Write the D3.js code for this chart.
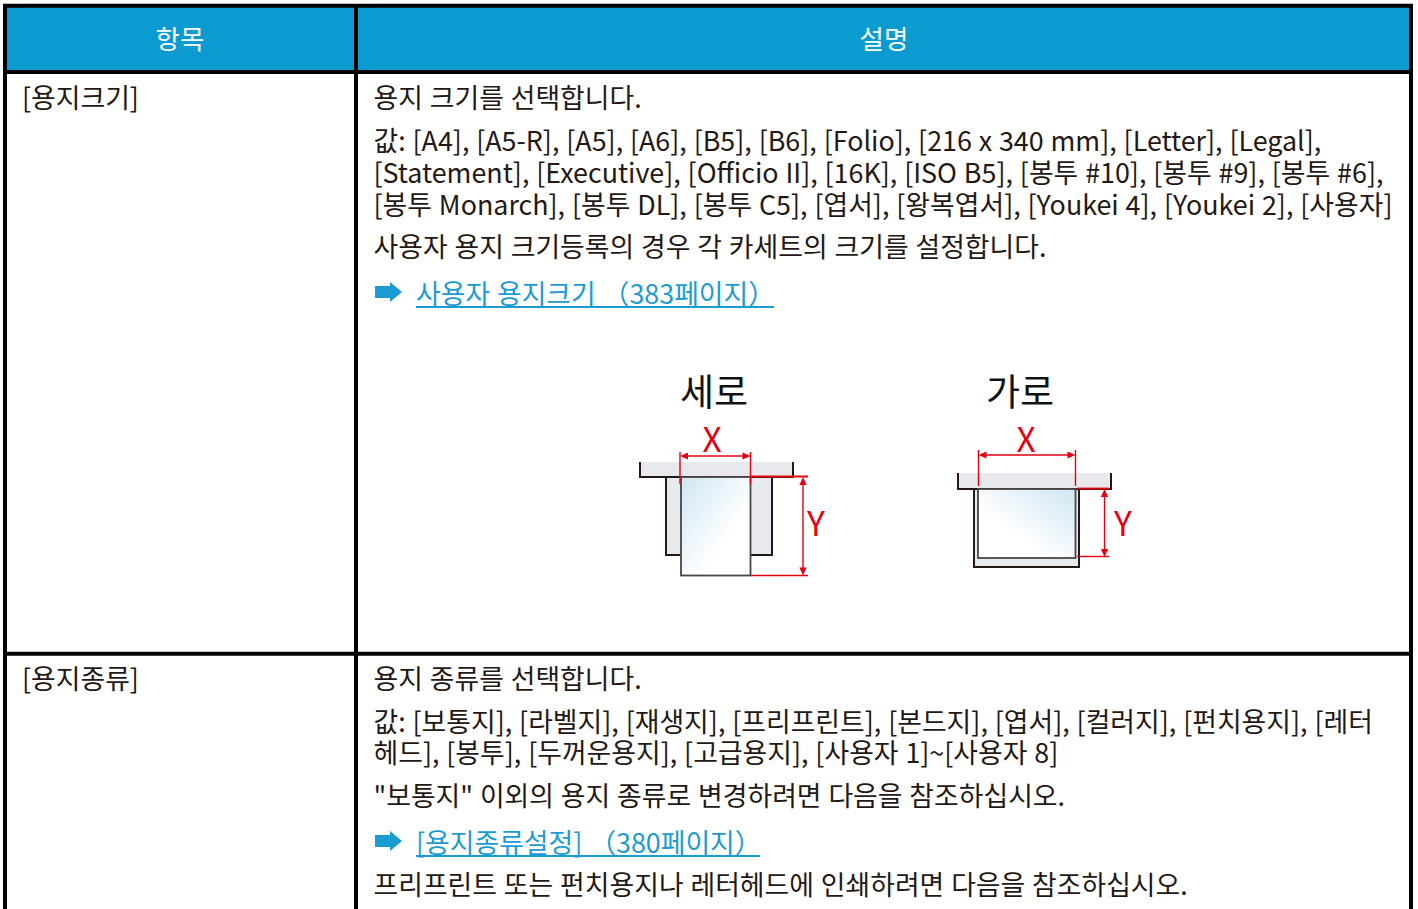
<!DOCTYPE html>
<html>
<head>
<meta charset="utf-8">
<style>
  html, body { margin: 0; padding: 0; background: #fff; overflow: hidden; }
  text { font-family: "Noto Sans CJK KR", sans-serif; }
</style>
</head>
<body>
<div id="table"></div>
<script src="https://cdn.jsdelivr.net/npm/d3@7"></script>
<script>
const headers = ["항목", "설명"];
const rowLabels = ["[용지크기]", "[용지종류]"];
const sizeLines = [
    "용지 크기를 선택합니다.",
    "값: [A4], [A5-R], [A5], [A6], [B5], [B6], [Folio], [216 x 340 mm], [Letter], [Legal],",
    "[Statement], [Executive], [Officio II], [16K], [ISO B5], [봉투 #10], [봉투 #9], [봉투 #6],",
    "[봉투 Monarch], [봉투 DL], [봉투 C5], [엽서], [왕복엽서], [Youkei 4], [Youkei 2], [사용자]",
    "사용자 용지 크기등록의 경우 각 카세트의 크기를 설정합니다."
];
const sizeLink = "사용자 용지크기 （383페이지）";
const typeLines = [
    "용지 종류를 선택합니다.",
    "값: [보통지], [라벨지], [재생지], [프리프린트], [본드지], [엽서], [컬러지], [펀치용지], [레터",
    "헤드], [봉투], [두꺼운용지], [고급용지], [사용자 1]~[사용자 8]",
    "\"보통지\" 이외의 용지 종류로 변경하려면 다음을 참조하십시오."
];
const typeLink = "[용지종류설정] （380페이지）";
const typeLast = "프리프린트 또는 펀치용지나 레터헤드에 인쇄하려면 다음을 참조하십시오.";
const diagramTitles = ["세로", "가로"];
const axisNames = ["X", "Y"];

const width = 1418, height = 909;
const ink = "#231815", red = "#e60012", tray = "#e8e9ec", blue = "#0b9bd0", linkBlue = "#1a9cd3";

const svg = d3.select("#table").append("svg")
    .attr("width", width).attr("height", height)
    .style("display", "block");

const defs = svg.append("defs");
const fade = (id, x1, y1, x2, y2) => {
    const g = defs.append("linearGradient").attr("id", id)
        .attr("x1", x1).attr("y1", y1).attr("x2", x2).attr("y2", y2);
    g.append("stop").attr("offset", 0).attr("stop-color", "#cfe6f3");
    g.append("stop").attr("offset", 0.65).attr("stop-color", "#ffffff");
};
fade("fadeLeft", 0, 0, 1, 1);
fade("fadeRight", 1, 0, 0, 1);

// table frame
svg.append("rect").attr("x", 6).attr("y", 7).attr("width", 1405).attr("height", 65).attr("fill", blue);

const rules = [
    [3, 5.7, 1413, 5.7], [3, 72, 1413, 72], [3, 653.8, 1413, 653.8],
    [5, 4, 5, 909], [356, 4, 356, 909], [1411, 4, 1411, 909]
];
svg.selectAll(".rule").data(rules).join("line")
    .attr("class", "rule")
    .attr("x1", d => d[0]).attr("y1", d => d[1]).attr("x2", d => d[2]).attr("y2", d => d[3])
    .attr("stroke", "#000").attr("stroke-width", 4);

// header + body text
const fontSize = 26.85, wordGap = 0.85;
const addText = (x, y, str, color = "#231815", anchor = "start", size = fontSize) =>
    svg.append("text").attr("x", x).attr("y", y).attr("fill", color)
        .attr("text-anchor", anchor).attr("font-size", size)
        .attr("word-spacing", size === fontSize ? wordGap : 0).text(str);

addText(180, 48.5, headers[0], "#fff", "middle", 26.5);
addText(884, 48.5, headers[1], "#fff", "middle", 26.5);
addText(22, 107.5, rowLabels[0]);
addText(22, 688.5, rowLabels[1]);

const textX = 373.5;
[107.5, 151, 183, 215, 256.5].forEach((y, i) => addText(textX, y, sizeLines[i]));
[688.5, 731.5, 763, 805.5].forEach((y, i) => addText(textX, y, typeLines[i]));
addText(textX, 894.5, typeLast);

// link rows: arrow glyph, label, underline
const addLink = (y, str, endX) => {
    svg.append("path")
        .attr("d", d3.line()([[375, y - 17], [390, y - 17], [390, y - 21], [402, y - 11], [390, y - 1], [390, y - 5], [375, y - 5]]))
        .attr("fill", linkBlue);
    addText(416, y + 0.5, str, linkBlue);
    svg.append("line").attr("x1", 416).attr("x2", endX).attr("y1", y + 4).attr("y2", y + 4)
        .attr("stroke", linkBlue).attr("stroke-width", 2);
};
addLink(303, sizeLink, 774);
addLink(852, typeLink, 760);

// diagrams
const box = (x, y, w, h, fill, stroke = ink, sw = 2) =>
    svg.append("rect").attr("x", x).attr("y", y).attr("width", w).attr("height", h)
        .attr("fill", fill).attr("stroke", stroke).attr("stroke-width", sw);
const seg = (x1, y1, x2, y2, color = red, sw = 1.4) =>
    svg.append("line").attr("x1", x1).attr("y1", y1).attr("x2", x2).attr("y2", y2)
        .attr("stroke", color).attr("stroke-width", sw);
const tip = (x, y, dx, dy) => {
    const l = 8, w = 3.6;
    const pts = dx ? [[x, y], [x + dx * l, y - w], [x + dx * l, y + w]] : [[x, y], [x - w, y + dy * l], [x + w, y + dy * l]];
    svg.append("path").attr("d", d3.line()(pts) + "Z").attr("fill", red);
};
const redText = (x, y, str) => addText(x, y, str, red, "middle", 33.5);

// portrait
addText(714, 406, diagramTitles[0], "#111", "middle", 37);
svg.append("rect").attr("x", 640).attr("y", 462).attr("width", 153).attr("height", 15).attr("fill", tray);
svg.append("path").attr("d", "M640,462V477H793V462").attr("fill", "none").attr("stroke", ink).attr("stroke-width", 2);
box(666, 477, 106, 78, tray);
box(681, 477, 69.5, 98.5, "url(#fadeLeft)", "#4a4644", 1.8);
seg(680, 452, 680, 484); seg(750.5, 452, 750.5, 484);
seg(683, 456, 748, 456); tip(680, 456, 1, 0); tip(750.5, 456, -1, 0);
seg(751, 476.5, 808, 476.5, red, 1.8); seg(751, 575.5, 808, 575.5);
seg(803, 482, 803, 570); tip(803, 477, 0, 1); tip(803, 575.5, 0, -1);
redText(712, 452, axisNames[0]);
redText(816, 536, axisNames[1]);

// landscape
addText(1020, 406, diagramTitles[1], "#111", "middle", 37);
svg.append("rect").attr("x", 957).attr("y", 473).attr("width", 154).attr("height", 16).attr("fill", tray);
svg.append("path").attr("d", "M958,473V489H1111V473").attr("fill", "none").attr("stroke", ink).attr("stroke-width", 2);
box(974, 489, 105, 78, tray);
box(978, 489, 97.5, 69, "url(#fadeRight)", "#4a4644", 1.8);
seg(978.5, 450, 978.5, 486); seg(1075.5, 450, 1075.5, 486);
seg(981, 455, 1073, 455); tip(978.5, 455, 1, 0); tip(1075.5, 455, -1, 0);
seg(1077, 488.5, 1109, 488.5, red, 1.8); seg(1077, 556.5, 1109, 556.5);
seg(1104.5, 494, 1104.5, 552); tip(1104.5, 489, 0, 1); tip(1104.5, 557, 0, -1);
redText(1026, 452, axisNames[0]);
redText(1123, 536, axisNames[1]);
</script>
</body>
</html>
